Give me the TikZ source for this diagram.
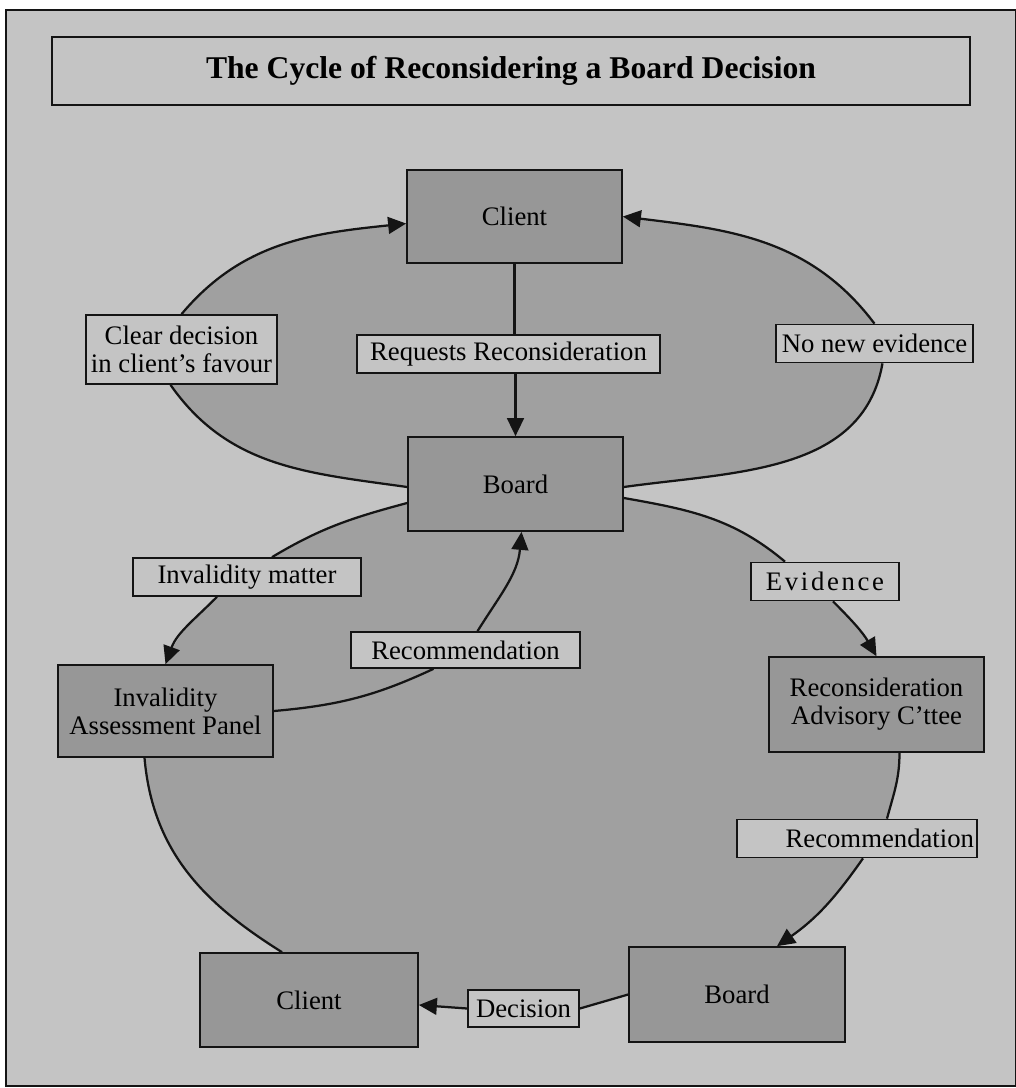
\documentclass[tikz,border=0pt]{standalone}
\usepackage{fontspec}
\setmainfont{Liberation Serif}
\usetikzlibrary{arrows.meta, calc, backgrounds}
\definecolor{cpaper}{HTML}{C4C4C4}
\definecolor{cregion}{HTML}{A0A0A0}
\definecolor{cbox}{HTML}{979797}
\definecolor{cink}{HTML}{141414}
\tikzset{
  every picture/.style={line width=1.6pt},
  stage/.style={draw=cink, fill=cbox, line width=1.2pt, align=center, inner sep=0pt, minimum width=5.375cm, minimum height=2.35cm, font=\fontsize{19}{20}\selectfont},
  tag/.style={draw=cink, fill=cpaper, line width=1.2pt, align=center, inner sep=0pt, minimum height=0.95cm, font=\fontsize{19}{20}\selectfont},
  heading/.style={draw=cink, fill=cpaper, line width=1.8pt, inner sep=0pt, font=\fontsize{22.5}{24}\selectfont\bfseries},
  flow/.style={-{Triangle[length=0.45cm, width=0.42cm]}, draw=cink, line width=1.6pt},
  link/.style={draw=cink, line width=1.6pt},
}
\begin{document}
\begin{tikzpicture}[x=0.025cm, y=0.025cm]
  \useasboundingbox (0,0) rectangle (1016,-1088);
  \node[heading, minimum width=22.95cm, minimum height=1.7cm] (title) at (511,-71) {The Cycle of Reconsidering a Board Decision};
  % upper cycle
  \node[stage, minimum height=2.325cm] (client) at (514.5,-216.5) {Client};
  \node[stage] (board) at (515.5,-484) {Board};
  \node[tag, minimum width=7.575cm] (reqs) at (508.5,-354) {Requests Reconsideration};
  \node[tag, minimum width=4.775cm, minimum height=1.725cm] (clear) at (181.5,-349.5) {Clear decision\\in client's favour};
  \node[tag, minimum width=4.925cm] (nonew) at (874.5,-343.5) {No new evidence};
  % lower cycle
  \node[tag, minimum width=5.7cm] (invalid) at (247,-577) {Invalidity matter};
  \node[stage, minimum height=2.3cm] (panel) at (165.5,-711) {Invalidity\\Assessment Panel};
  \node[tag, minimum width=5.725cm, minimum height=0.9cm] (recpanel) at (465.5,-650) {Recommendation};
  \node[tag, minimum width=3.7cm] (evid) at (825,-581.5) {\addfontfeatures{LetterSpace=10}Evidence};
  \node[stage, minimum height=2.375cm] (rac) at (876.5,-704.5) {Reconsideration\\Advisory C'ttee};
  \node[tag, minimum width=6cm, text width=5.85cm, align=right] (recrac) at (857,-838.5) {Recommendation};
  \node[stage, minimum width=5.45cm] (client2) at (309,-1000) {Client};
  \node[tag, minimum width=2.775cm, minimum height=0.925cm] (decision) at (523.5,-1008.5) {Decision};
  \node[stage, minimum width=5.4cm, minimum height=2.375cm] (board2) at (737,-994.5) {Board};

  \begin{scope}[on background layer]
    \filldraw[fill=cpaper, draw=cink, line width=0.8pt] (6,-10) rectangle (1016,-1086);
    \fill[cregion] (clear.north) to[out=50, in=186] ($(client.west)+(0,-7)$) -- (client.east)
      to[out=-7, in=127] (nonew.north) -- ($(nonew.south)+(8,0)$)
      to[out=-100, in=8] ($(board.east)+(0,-3)$) -- ($(board.west)+(0,-3)$)
      to[out=172, in=-55] ($(clear.south)+(-11,0)$) -- cycle;
    \fill[cregion] ($(board.west)+(0,-19)$) to[out=195, in=31] ($(invalid.north)+(25,0)$)
      -- ($(invalid.south)+(-30,0)$) to[out=225, in=70] (panel.north)
      -- ($(panel.south)+(-21,0)$) to[out=-85, in=148] ($(client2.north)+(-27,0)$)
      -- (client2.north east) -- ($(client2.east)+(0,-5)$) -- (decision.west) -- (decision.east)
      -- (board2.west) -- ($(board2.north)+(40,0)$)
      to[out=35, in=235] ($(recrac.south)+(6,0)$) -- ($(recrac.north)+(30,0)$)
      to[out=75, in=-90] ($(rac.south)+(23,0)$) -- (rac.north)
      to[out=120, in=-45] ($(evid.south)+(8,0)$) -- ($(evid.north)+(-40,0)$)
      to[out=140, in=-10] ($(board.east)+(0,-14)$) -- cycle;
  \end{scope}

  % upper connectors
  \draw[flow] (clear.north) to[out=50, in=186] ($(client.west)+(0,-7)$);
  \draw[flow] (nonew.north) to[out=127, in=-7] (client.east);
  \draw[link] (client.south) -- (client.south |- reqs.north);
  \draw[flow] (reqs.south -| board.north) -- (board.north);
  \draw[link] ($(clear.south)+(-11,0)$) to[out=-55, in=172] ($(board.west)+(0,-3)$);
  \draw[link] ($(nonew.south)+(8,0)$) to[out=-100, in=8] ($(board.east)+(0,-3)$);
  % lower connectors
  \draw[link] ($(board.west)+(0,-19)$) to[out=195, in=31] ($(invalid.north)+(25,0)$);
  \draw[flow] ($(invalid.south)+(-30,0)$) to[out=225, in=70] (panel.north);
  \draw[link] (panel.east) to[out=5, in=205] ($(recpanel.south)+(-32,0)$);
  \draw[flow] ($(recpanel.north)+(12,0)$) to[out=58, in=-95] ($(board.south)+(6,0)$);
  \draw[link] ($(board.east)+(0,-14)$) to[out=-10, in=140] ($(evid.north)+(-40,0)$);
  \draw[flow] ($(evid.south)+(8,0)$) to[out=-45, in=120] (rac.north);
  \draw[link] ($(rac.south)+(23,0)$) to[out=-90, in=75] ($(recrac.north)+(30,0)$);
  \draw[flow] ($(recrac.south)+(6,0)$) to[out=235, in=35] ($(board2.north)+(40,0)$);
  \draw[link] (board2.west) -- (decision.east);
  \draw[flow] (decision.west) -- ($(client2.east)+(0,-5)$);
  \draw[link] ($(panel.south)+(-21,0)$) to[out=-85, in=148] ($(client2.north)+(-27,0)$);
\end{tikzpicture}
\end{document}
